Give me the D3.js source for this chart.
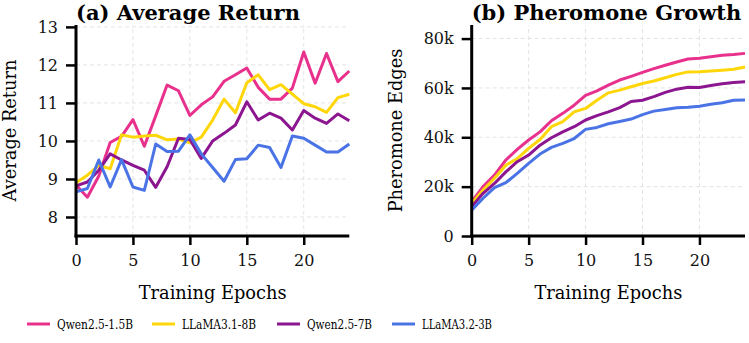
<!DOCTYPE html>
<html>
<head>
<meta charset="utf-8">
<script src="https://cdn.jsdelivr.net/npm/d3@7"></script>
<style>
  body { margin: 0; background: #fff; }
  svg, svg text { font-family: "DejaVu Serif", serif; }
  .grid line { stroke: #e3e3e3; stroke-width: 1; stroke-dasharray: 4,3; }
  .axis path.domain { display: none; }
  .axis .tick line { stroke: #000; stroke-width: 2.5; }
  .axis .tick text { font-size: 16px; fill: #111; font-family: "DejaVu Serif", serif; }
  .spine { stroke: #000; stroke-width: 3; }
</style>
</head>
<body>
<main></main>
<script>
const width = 749, height = 343;

// epochs 0..24
const epochs = d3.range(0, 25);

const models = ["Qwen2.5-1.5B", "LLaMA3.1-8B", "Qwen2.5-7B", "LLaMA3.2-3B"];
const colors = ["#e8318c", "#ffd60a", "#8c1590", "#4a74e6"];

// (a) average return
const returnQwen15 = [8.84, 8.52, 9.08, 9.96, 10.12, 10.56, 9.86, 10.66, 11.47, 11.32, 10.67, 10.95, 11.16,
  11.57, 11.74, 11.92, 11.41, 11.1, 11.1, 11.39, 12.34, 11.52, 12.3, 11.56, 11.84];
const returnLlama8 = [8.9, 9.1, 9.36, 9.27, 10.16, 10.1, 10.13, 10.15, 10.03, 10.05, 9.95, 10.1, 10.55,
  11.1, 10.74, 11.53, 11.74, 11.35, 11.48, 11.23, 10.98, 10.9, 10.75, 11.14, 11.23];
const returnQwen7 = [8.82, 8.92, 9.23, 9.66, 9.5, 9.36, 9.23, 8.78, 9.32, 10.07, 10.04, 9.54, 10.0,
  10.2, 10.42, 11.03, 10.55, 10.73, 10.6, 10.29, 10.8, 10.6, 10.46, 10.71, 10.53];
const returnLlama3 = [8.66, 8.75, 9.5, 8.79, 9.51, 8.79, 8.7, 9.92, 9.72, 9.73, 10.16, 9.66, 9.3,
  8.94, 9.51, 9.53, 9.89, 9.83, 9.3, 10.13, 10.07, 9.89, 9.71, 9.71, 9.92];

// (b) pheromone edges
const edgesQwen15 = [13900, 20000, 24700, 30800, 35100, 38900, 42200, 46700, 49700, 53000, 57000, 58800, 61100,
  63200, 64700, 66300, 67800, 69200, 70500, 71700, 72000, 72600, 73200, 73500, 74000];
const edgesLlama8 = [13200, 18600, 23400, 28700, 31400, 35500, 39100, 44300, 46300, 50300, 51700, 55000, 58000,
  59100, 60500, 61800, 62800, 64100, 65500, 66500, 66600, 66900, 67200, 67600, 68500];
const edgesQwen7 = [11900, 17300, 21300, 26000, 30100, 32800, 36800, 39800, 42200, 44300, 47000, 48800, 50300,
  52000, 54500, 55000, 56500, 58200, 59500, 60300, 60200, 61000, 61700, 62200, 62500];
const edgesLlama3 = [10500, 15300, 19600, 21600, 25400, 29400, 33200, 35900, 37500, 39500, 43200, 44000, 45500,
  46400, 47400, 49200, 50600, 51300, 52000, 52200, 52600, 53400, 54000, 55000, 55100];

const xTicks = [0, 5, 10, 15, 20];
const returnTicks = [8, 9, 10, 11, 12, 13];
const edgeTicks = [0, 20000, 40000, 60000, 80000];

const svg = d3.select("main").append("svg")
    .attr("width", width)
    .attr("height", height);

const panels = [
  {title: "(a) Average Return", ylabel: "Average Return", left: 76, ylabelX: 16,
   series: [returnQwen15, returnLlama8, returnQwen7, returnLlama3],
   yDomain: [7.5, 13.05], yTicks: returnTicks, fmt: d3.format("d")},
  {title: "(b) Pheromone Growth", ylabel: "Pheromone Edges", left: 471.7, ylabelX: 402,
   series: [edgesQwen15, edgesLlama8, edgesQwen7, edgesLlama3],
   yDomain: [0, 85500], yTicks: edgeTicks, fmt: d => d === 0 ? "0" : (d / 1000) + "k"}
];

const plotTop = 25, plotBottom = 236, plotW = 273.3;

panels.forEach(p => {
  const x = d3.scaleLinear().domain([0, 24]).range([p.left, p.left + plotW]);
  const y = d3.scaleLinear().domain(p.yDomain).range([plotBottom, plotTop]);
  const g = svg.append("g");

  // grid
  const grid = g.append("g").attr("class", "grid");
  grid.selectAll(".gx").data(xTicks.slice(1)).enter().append("line")
      .attr("x1", d => x(d)).attr("x2", d => x(d))
      .attr("y1", plotBottom).attr("y2", plotTop);
  grid.selectAll(".gy").data(p.yTicks.filter(d => y(d) < plotBottom - 1)).enter().append("line")
      .attr("x1", p.left).attr("x2", p.left + plotW)
      .attr("y1", d => y(d)).attr("y2", d => y(d));

  // lines
  const line = d3.line().x((d, i) => x(epochs[i])).y(d => y(d));
  p.series.forEach((s, i) => {
    g.append("path")
        .datum(s)
        .attr("fill", "none")
        .attr("stroke", colors[i])
        .attr("stroke-width", 3)
        .attr("stroke-linejoin", "round")
        .attr("d", line);
  });

  // axes
  g.append("g").attr("class", "axis")
      .attr("transform", "translate(0," + plotBottom + ")")
      .call(d3.axisBottom(x).tickValues(xTicks).tickSize(9).tickPadding(10).tickFormat(d3.format("d")))
      .attr("font-family", null);
  g.append("g").attr("class", "axis")
      .attr("transform", "translate(" + p.left + ",0)")
      .call(d3.axisLeft(y).tickValues(p.yTicks).tickSize(10).tickPadding(8).tickFormat(p.fmt))
      .attr("font-family", null);

  // spines
  g.append("line").attr("class", "spine")
      .attr("x1", p.left).attr("x2", p.left).attr("y1", plotTop).attr("y2", plotBottom + 1.5);
  g.append("line").attr("class", "spine")
      .attr("x1", p.left - 1.5).attr("x2", p.left + plotW).attr("y1", plotBottom).attr("y2", plotBottom);

  // labels
  g.append("text")
      .attr("x", p.left).attr("y", 20)
      .attr("font-size", 21).attr("font-weight", "bold")
      .text(p.title);
  g.append("text")
      .attr("x", p.left + plotW / 2).attr("y", 299)
      .attr("text-anchor", "middle").attr("font-size", 17.8)
      .text("Training Epochs");
  g.append("text")
      .attr("transform", "translate(" + p.ylabelX + "," + (plotTop + plotBottom) / 2 + ") rotate(-90)")
      .attr("text-anchor", "middle").attr("font-size", 17.8)
      .text(p.ylabel);
});

// legend
const legendX = [27, 152, 277, 392];
const legendW = [76, 74, 65, 70];
const legend = svg.append("g");
models.forEach((m, i) => {
  legend.append("line")
      .attr("x1", legendX[i]).attr("x2", legendX[i] + 23)
      .attr("y1", 324).attr("y2", 324)
      .attr("stroke", colors[i]).attr("stroke-width", 3);
  legend.append("text")
      .attr("x", legendX[i] + 30).attr("y", 328.5)
      .attr("font-size", 12.8)
      .attr("textLength", legendW[i])
      .attr("lengthAdjust", "spacingAndGlyphs")
      .text(m);
});
</script>
</body>
</html>
